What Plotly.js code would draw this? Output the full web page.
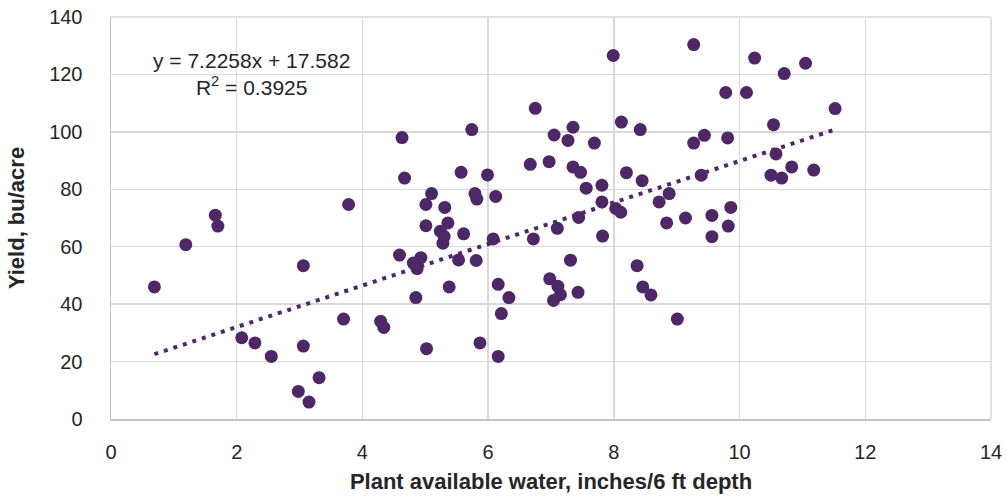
<!DOCTYPE html>
<html>
<head>
<meta charset="utf-8">
<script src="https://cdn.plot.ly/plotly-3.0.1.min.js"></script>
<style>
  html, body { margin: 0; padding: 0; background: #ffffff; }
  #chart { width: 1006px; height: 504px; }
</style>
</head>
<body>
<div id="chart"></div>
<script>
// Plant available water (inches / 6 ft depth)
const waterX = [
  0.69, 1.19, 1.66, 1.70, 2.08, 2.29, 2.55, 2.98, 3.06, 3.06,
  3.15, 3.31, 3.70, 3.78, 4.29, 4.34, 4.59, 4.63, 4.67, 4.81,
  4.93, 4.87, 4.85, 5.01, 5.01, 5.02, 5.10, 5.31, 5.36, 5.24,
  5.30, 5.28, 5.38, 5.53, 5.57, 5.61, 5.74, 5.79, 5.82, 5.81,
  5.87, 5.99, 6.08, 6.12, 6.16, 6.16, 6.21, 6.33, 6.67, 6.72,
  6.75, 6.97, 6.98, 7.05, 7.04, 7.10, 7.11, 7.15, 7.27, 7.31,
  7.35, 7.35, 7.43, 7.44, 7.47, 7.56, 7.69, 7.81, 7.81, 7.82,
  7.99, 8.03, 8.11, 8.12, 8.20, 8.37, 8.42, 8.45, 8.46, 8.59,
  8.72, 8.84, 8.88, 9.01, 9.14, 9.27, 9.27, 9.39, 9.44, 9.56,
  9.56, 9.78, 9.81, 9.82, 9.86, 10.11, 10.24, 10.50, 10.54, 10.58,
  10.67, 10.71, 10.83, 11.05, 11.18, 11.52
];
// Yield (bu/acre)
const yieldY = [
  46.0, 60.7, 71.0, 67.2, 28.3, 26.5, 21.8, 9.6, 53.4, 25.4,
  5.9, 14.4, 34.8, 74.7, 34.0, 31.9, 57.1, 98.0, 83.9, 54.3,
  56.2, 52.4, 42.3, 74.7, 67.3, 24.5, 78.5, 73.7, 68.3, 65.4,
  63.6, 61.2, 46.0, 55.4, 85.9, 64.5, 100.8, 78.5, 76.6, 55.2,
  26.5, 85.0, 62.7, 77.5, 46.9, 21.8, 36.7, 42.3, 88.7, 62.7,
  108.2, 89.6, 48.8, 98.9, 41.3, 66.4, 46.2, 43.3, 97.0, 55.3,
  101.6, 87.8, 44.1, 70.2, 85.9, 80.4, 96.1, 81.4, 75.6, 63.7,
  126.6, 73.3, 72.0, 103.4, 85.8, 53.4, 100.8, 83.0, 46.0, 43.2,
  75.6, 68.3, 78.5, 34.8, 70.0, 130.4, 96.1, 84.9, 98.8, 70.9,
  63.5, 113.7, 97.9, 67.2, 73.7, 113.7, 125.7, 84.9, 102.5, 92.3,
  83.9, 120.3, 87.8, 123.9, 86.7, 108.1
];
// Linear trendline reported on the chart
const slope = 7.2258;
const intercept = 17.582;
const rSquared = 0.3925;

const xTicks = [0, 2, 4, 6, 8, 10, 12, 14];
const yTicks = [0, 20, 40, 60, 80, 100, 120, 140];

const purple = '#4e2767';
const textColor = '#262626';
const gridColor = '#d9d9d9';
const baseFont = 'Liberation Sans, Arial, sans-serif';

const xMin = Math.min(...waterX);
const xMax = Math.max(...waterX);
const trendX = [xMin, xMax];
const trendY = trendX.map(v => slope * v + intercept);

const traces = [
  {
    type: 'scatter',
    mode: 'lines',
    x: trendX,
    y: trendY,
    line: { color: purple, width: 4, dash: '4px,6px' },
    hoverinfo: 'skip',
    showlegend: false
  },
  {
    type: 'scatter',
    mode: 'markers',
    x: waterX,
    y: yieldY,
    marker: { color: purple, size: 13, line: { width: 0 } },
    showlegend: false
  }
];

const layout = {
  width: 1006,
  height: 504,
  margin: { l: 111, r: 15, t: 17, b: 85 },
  paper_bgcolor: '#ffffff',
  plot_bgcolor: '#ffffff',
  font: { family: baseFont, size: 21, color: textColor },
  showlegend: false,
  xaxis: {
    range: [0, 14],
    tickvals: xTicks,
    ticktext: xTicks.map(String),
    showgrid: true,
    gridcolor: gridColor,
    gridwidth: 1.5,
    zeroline: false,
    showline: true,
    linecolor: '#c4c4c4',
    linewidth: 1.5,
    ticks: 'outside',
    ticklen: 14,
    tickcolor: 'rgba(0,0,0,0)',
    tickfont: { family: baseFont, size: 20, color: textColor },
    title: {
      text: '<b>Plant available water, inches/6 ft depth</b>',
      font: { family: baseFont, size: 22, color: textColor },
      standoff: 12
    },
    fixedrange: true
  },
  yaxis: {
    range: [0, 140],
    tickvals: yTicks,
    ticktext: yTicks.map(String),
    showgrid: true,
    gridcolor: gridColor,
    gridwidth: 1.5,
    zeroline: false,
    showline: true,
    linecolor: '#c4c4c4',
    linewidth: 1.5,
    ticks: 'outside',
    ticklen: 23,
    tickcolor: 'rgba(0,0,0,0)',
    tickfont: { family: baseFont, size: 20, color: textColor },
    title: {
      text: '<b>Yield, bu/acre</b>',
      font: { family: baseFont, size: 22, color: textColor },
      standoff: 18
    },
    fixedrange: true
  },
  shapes: [
    { type: 'line', xref: 'paper', yref: 'paper', x0: 1, x1: 1, y0: 0, y1: 1,
      line: { color: gridColor, width: 1.5 } },
    { type: 'line', xref: 'paper', yref: 'paper', x0: 0, x1: 1, y0: 1, y1: 1,
      line: { color: gridColor, width: 1.5 } }
  ],
  annotations: [
    {
      xref: 'x', yref: 'y',
      x: 2.24, y: 120.3,
      text: 'y = ' + slope + 'x + ' + intercept + '<br>R<sup>2</sup> = ' + rSquared,
      showarrow: false,
      align: 'center',
      font: { family: baseFont, size: 21, color: textColor }
    }
  ]
};

Plotly.newPlot('chart', traces, layout, { displayModeBar: false, staticPlot: true });
</script>
</body>
</html>
